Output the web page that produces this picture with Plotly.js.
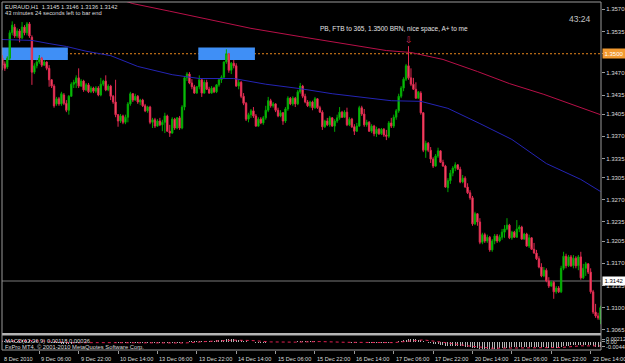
<!DOCTYPE html>
<html>
<head>
<meta charset="utf-8">
<script src="https://cdn.plot.ly/plotly-3.0.1.min.js"></script>
<style>html,body{margin:0;padding:0;background:#000;}#chart{width:625px;height:363px;}</style>
</head>
<body>
<div id="chart"></div>
<script>
// ---- EURAUD H1 candles (bar 0 = 8 Dec 2010 14:00) ----
const open = [
1.3490,1.3493,1.3484,1.3479,1.3493,1.3533,1.3542,1.3528,1.3536,1.3525,
1.3542,1.3533,1.3547,1.3526,1.3471,1.3481,1.3487,1.3493,1.3482,1.3487,
1.3477,1.3459,1.3449,1.3421,1.3429,1.3421,1.3435,1.3422,1.3411,1.3433,
1.3452,1.3454,1.3462,1.3449,1.3457,1.3443,1.3451,1.3440,1.3446,1.3441,
1.3446,1.3435,1.3452,1.3457,1.3443,1.3449,1.3433,1.3424,1.3404,1.3394,
1.3402,1.3392,1.3400,1.3421,1.3437,1.3427,1.3433,1.3424,1.3427,1.3418,
1.3410,1.3416,1.3392,1.3396,1.3386,1.3394,1.3388,1.3392,1.3402,1.3378,
1.3375,1.3397,1.3383,1.3399,1.3383,1.3416,1.3462,1.3468,1.3454,1.3448,
1.3438,1.3448,1.3459,1.3438,1.3455,1.3444,1.3438,1.3446,1.3440,1.3451,
1.3459,1.3463,1.3487,1.3500,1.3474,1.3485,1.3481,1.3449,1.3455,1.3433,
1.3422,1.3397,1.3404,1.3410,1.3402,1.3386,1.3397,1.3391,1.3399,1.3411,
1.3426,1.3418,1.3421,1.3411,1.3402,1.3407,1.3394,1.3413,1.3430,1.3421,
1.3430,1.3421,1.3440,1.3449,1.3433,1.3424,1.3418,1.3424,1.3415,1.3429,
1.3415,1.3408,1.3385,1.3394,1.3388,1.3399,1.3386,1.3394,1.3399,1.3408,
1.3400,1.3408,1.3388,1.3397,1.3385,1.3378,1.3386,1.3415,1.3405,1.3388,
1.3392,1.3378,1.3386,1.3374,1.3381,1.3374,1.3381,1.3372,1.3370,1.3391,
1.3386,1.3400,1.3410,1.3433,1.3446,1.3460,1.3481,1.3462,1.3452,1.3444,
1.3430,1.3438,1.3407,1.3348,1.3359,1.3348,1.3334,1.3323,1.3339,1.3347,
1.3329,1.3323,1.3289,1.3300,1.3312,1.3320,1.3325,1.3318,1.3298,1.3304,
1.3290,1.3281,1.3273,1.3232,1.3248,1.3235,1.3203,1.3215,1.3205,1.3211,
1.3191,1.3205,1.3213,1.3205,1.3211,1.3219,1.3224,1.3230,1.3210,1.3219,
1.3211,1.3224,1.3227,1.3208,1.3216,1.3197,1.3210,1.3192,1.3186,1.3177,
1.3164,1.3150,1.3159,1.3142,1.3134,1.3140,1.3125,1.3131,1.3125,1.3162,
1.3181,1.3166,1.3180,1.3166,1.3178,1.3166,1.3180,1.3147,1.3162,1.3169,
1.3156,1.3125,1.3093,1.3087,1.3081];
const high = [
1.3496,1.3498,1.3488,1.3496,1.3537,1.3551,1.3547,1.3540,1.3539,1.3550,
1.3545,1.3550,1.3550,1.3529,1.3485,1.3490,1.3498,1.3495,1.3490,1.3488,
1.3482,1.3460,1.3452,1.3432,1.3432,1.3440,1.3438,1.3427,1.3435,1.3455,
1.3459,1.3466,1.3477,1.3460,1.3459,1.3454,1.3454,1.3449,1.3448,1.3449,
1.3449,1.3462,1.3459,1.3466,1.3452,1.3451,1.3435,1.3459,1.3405,1.3405,
1.3404,1.3404,1.3424,1.3440,1.3438,1.3437,1.3435,1.3429,1.3429,1.3421,
1.3418,1.3418,1.3399,1.3399,1.3397,1.3399,1.3396,1.3407,1.3404,1.3388,
1.3400,1.3399,1.3400,1.3402,1.3419,1.3465,1.3471,1.3471,1.3460,1.3451,
1.3449,1.3466,1.3460,1.3459,1.3459,1.3448,1.3449,1.3448,1.3452,1.3460,
1.3466,1.3488,1.3507,1.3501,1.3487,1.3490,1.3485,1.3459,1.3457,1.3438,
1.3424,1.3407,1.3413,1.3416,1.3405,1.3400,1.3400,1.3402,1.3418,1.3432,
1.3429,1.3424,1.3422,1.3415,1.3411,1.3408,1.3416,1.3433,1.3432,1.3433,
1.3432,1.3443,1.3454,1.3451,1.3437,1.3427,1.3426,1.3426,1.3432,1.3430,
1.3418,1.3411,1.3396,1.3399,1.3402,1.3400,1.3397,1.3404,1.3416,1.3410,
1.3411,1.3415,1.3400,1.3399,1.3389,1.3391,1.3418,1.3418,1.3413,1.3396,
1.3394,1.3389,1.3388,1.3385,1.3383,1.3383,1.3383,1.3380,1.3394,1.3399,
1.3404,1.3413,1.3437,1.3449,1.3463,1.3484,1.3512,1.3477,1.3462,1.3455,
1.3441,1.3441,1.3408,1.3363,1.3361,1.3353,1.3337,1.3342,1.3352,1.3348,
1.3333,1.3325,1.3304,1.3317,1.3323,1.3329,1.3326,1.3322,1.3309,1.3307,
1.3296,1.3285,1.3276,1.3251,1.3249,1.3241,1.3218,1.3218,1.3215,1.3213,
1.3208,1.3216,1.3216,1.3215,1.3224,1.3230,1.3241,1.3232,1.3221,1.3221,
1.3238,1.3230,1.3229,1.3218,1.3218,1.3215,1.3211,1.3202,1.3191,1.3181,
1.3170,1.3164,1.3162,1.3148,1.3142,1.3142,1.3134,1.3134,1.3166,1.3188,
1.3185,1.3183,1.3183,1.3183,1.3181,1.3183,1.3188,1.3169,1.3172,1.3170,
1.3162,1.3128,1.3106,1.3092,1.3103];
const low = [
1.3481,1.3474,1.3473,1.3476,1.3490,1.3529,1.3525,1.3525,1.3518,1.3523,
1.3529,1.3529,1.3525,1.3451,1.3468,1.3477,1.3484,1.3479,1.3481,1.3474,
1.3448,1.3446,1.3415,1.3418,1.3418,1.3418,1.3419,1.3408,1.3404,1.3432,
1.3446,1.3446,1.3446,1.3448,1.3440,1.3441,1.3438,1.3438,1.3438,1.3438,
1.3433,1.3433,1.3449,1.3441,1.3441,1.3427,1.3421,1.3400,1.3385,1.3391,
1.3389,1.3389,1.3392,1.3418,1.3424,1.3426,1.3421,1.3419,1.3416,1.3408,
1.3407,1.3389,1.3383,1.3383,1.3385,1.3386,1.3378,1.3375,1.3377,1.3369,
1.3374,1.3380,1.3381,1.3380,1.3381,1.3411,1.3457,1.3452,1.3444,1.3437,
1.3437,1.3444,1.3432,1.3437,1.3443,1.3437,1.3437,1.3438,1.3438,1.3448,
1.3454,1.3462,1.3484,1.3470,1.3468,1.3477,1.3448,1.3444,1.3430,1.3419,
1.3394,1.3392,1.3399,1.3399,1.3385,1.3385,1.3389,1.3388,1.3396,1.3408,
1.3415,1.3415,1.3408,1.3400,1.3400,1.3388,1.3391,1.3410,1.3419,1.3418,
1.3416,1.3419,1.3437,1.3430,1.3422,1.3416,1.3415,1.3411,1.3413,1.3413,
1.3407,1.3380,1.3383,1.3386,1.3385,1.3385,1.3377,1.3391,1.3396,1.3399,
1.3399,1.3386,1.3386,1.3383,1.3372,1.3377,1.3385,1.3402,1.3385,1.3385,
1.3377,1.3375,1.3370,1.3369,1.3372,1.3372,1.3369,1.3364,1.3367,1.3383,
1.3383,1.3396,1.3407,1.3430,1.3441,1.3457,1.3459,1.3449,1.3443,1.3429,
1.3429,1.3404,1.3345,1.3336,1.3345,1.3328,1.3320,1.3322,1.3336,1.3328,
1.3322,1.3289,1.3282,1.3295,1.3307,1.3315,1.3317,1.3296,1.3296,1.3289,
1.3279,1.3270,1.3229,1.3230,1.3229,1.3200,1.3200,1.3202,1.3202,1.3188,
1.3188,1.3200,1.3202,1.3203,1.3207,1.3210,1.3222,1.3208,1.3207,1.3210,
1.3210,1.3219,1.3207,1.3207,1.3196,1.3194,1.3191,1.3185,1.3175,1.3162,
1.3148,1.3148,1.3140,1.3131,1.3133,1.3114,1.3122,1.3123,1.3123,1.3159,
1.3162,1.3164,1.3164,1.3162,1.3162,1.3159,1.3144,1.3145,1.3150,1.3153,
1.3122,1.3090,1.3084,1.3081,1.3074];
const close = [
1.3487,1.3482,1.3477,1.3493,1.3533,1.3545,1.3528,1.3536,1.3525,1.3542,
1.3533,1.3547,1.3528,1.3471,1.3481,1.3487,1.3493,1.3482,1.3487,1.3477,
1.3459,1.3449,1.3418,1.3429,1.3421,1.3437,1.3422,1.3411,1.3433,1.3452,
1.3455,1.3462,1.3449,1.3457,1.3443,1.3451,1.3440,1.3446,1.3441,1.3446,
1.3435,1.3452,1.3457,1.3443,1.3449,1.3433,1.3424,1.3404,1.3394,1.3402,
1.3392,1.3400,1.3421,1.3437,1.3427,1.3433,1.3424,1.3427,1.3418,1.3410,
1.3416,1.3392,1.3396,1.3386,1.3394,1.3388,1.3392,1.3402,1.3378,1.3375,
1.3397,1.3383,1.3399,1.3383,1.3416,1.3462,1.3468,1.3454,1.3448,1.3438,
1.3448,1.3459,1.3438,1.3455,1.3444,1.3438,1.3446,1.3440,1.3451,1.3459,
1.3463,1.3487,1.3500,1.3474,1.3485,1.3481,1.3449,1.3455,1.3433,1.3422,
1.3397,1.3404,1.3410,1.3402,1.3386,1.3397,1.3391,1.3399,1.3411,1.3426,
1.3418,1.3421,1.3411,1.3402,1.3407,1.3394,1.3413,1.3430,1.3421,1.3430,
1.3421,1.3440,1.3449,1.3433,1.3424,1.3418,1.3424,1.3415,1.3429,1.3415,
1.3408,1.3385,1.3394,1.3388,1.3399,1.3386,1.3394,1.3399,1.3408,1.3400,
1.3408,1.3388,1.3397,1.3385,1.3378,1.3386,1.3415,1.3405,1.3388,1.3392,
1.3378,1.3386,1.3374,1.3381,1.3374,1.3381,1.3372,1.3370,1.3391,1.3386,
1.3400,1.3410,1.3433,1.3446,1.3460,1.3481,1.3462,1.3452,1.3444,1.3430,
1.3440,1.3407,1.3348,1.3359,1.3348,1.3334,1.3323,1.3339,1.3347,1.3329,
1.3323,1.3290,1.3300,1.3312,1.3320,1.3325,1.3318,1.3298,1.3304,1.3290,
1.3281,1.3273,1.3232,1.3248,1.3235,1.3203,1.3215,1.3205,1.3211,1.3191,
1.3205,1.3213,1.3205,1.3211,1.3219,1.3224,1.3230,1.3210,1.3219,1.3211,
1.3224,1.3227,1.3208,1.3216,1.3197,1.3210,1.3192,1.3186,1.3177,1.3164,
1.3150,1.3159,1.3142,1.3134,1.3140,1.3125,1.3131,1.3125,1.3162,1.3181,
1.3166,1.3180,1.3166,1.3178,1.3166,1.3180,1.3147,1.3162,1.3169,1.3156,
1.3125,1.3093,1.3087,1.3084,1.3100];

// ---- moving averages (read at sample bars) ----
const maRedBars = [50,54,69,85,102,122,142,157,167,180,194,207,221,235,244];
const maRedVals = [1.3584,1.3579,1.3567,1.3554,1.3540,1.3527,1.3515,1.3505,1.3502,1.3491,1.3472,1.3453,1.3436,1.3417,1.3404];
const maBlueBars = [0,13,20,27,35,45,56,70,81,95,108,122,135,149,159,171,182,195,208,222,236,244];
const maBlueVals = [1.35225,1.3521,1.3516,1.35115,1.3504,1.3497,1.3480,1.3467,1.3461,1.3461,1.3452,1.3445,1.3437,1.3430,1.3426,1.3425,1.3414,1.3390,1.3365,1.3327,1.3302,1.3283];

// ---- MACD(12,26,9) ----
const macdHist = [
0.0005,0.0004,0.0003,0.0004,0.0006,0.0008,0.0009,0.0009,0.0009,0.0010,0.0010,0.0011,0.0010,
0.0005,0.0003,0.0002,0.0001,0.0000,-0.0001,-0.0002,-0.0005,-0.0008,-0.0012,-0.0014,-0.0015,-0.0016,-0.0017,-0.0019,-0.0019,-0.0016,
-0.0012,-0.0009,-0.0008,-0.0006,-0.0006,-0.0005,-0.0005,-0.0005,-0.0005,-0.0005,-0.0005,-0.0003,-0.0002,-0.0002,-0.0002,-0.0004,
-0.0005,-0.0008,-0.0011,-0.0012,-0.0013,-0.0013,-0.0012,-0.0009,-0.0008,-0.0007,-0.0007,-0.0007,-0.0007,-0.0008,-0.0008,-0.0010,-0.0011,-0.0012,-0.0012,-0.0012,-0.0012,-0.0011,-0.0012,-0.0013,-0.0012,-0.0012,-0.0012,-0.0012,-0.0010,-0.0004,
0.0000,0.0002,0.0004,0.0004,0.0005,0.0007,0.0007,0.0008,0.0009,0.0009,0.0009,0.0009,0.0010,0.0011,0.0012,0.0015,0.0019,0.0019,0.0019,0.0019,0.0016,0.0014,0.0010,0.0006,0.0002,-0.0001,-0.0003,
-0.0004,-0.0007,-0.0008,-0.0009,-0.0009,-0.0008,-0.0005,-0.0004,-0.0003,-0.0003,-0.0004,-0.0004,-0.0005,-0.0004,-0.0002,-0.0001,0.0000,0.0000,0.0002,0.0004,0.0004,0.0003,0.0002,0.0002,0.0002,0.0002,0.0001,0.0000,
-0.0003,-0.0004,-0.0005,-0.0005,-0.0006,-0.0006,-0.0006,-0.0005,-0.0005,-0.0005,-0.0006,-0.0006,-0.0007,-0.0008,-0.0008,-0.0006,-0.0005,-0.0006,-0.0006,-0.0007,-0.0008,-0.0009,-0.0009,-0.0010,-0.0010,-0.0010,-0.0011,-0.0009,-0.0008,-0.0006,
-0.0003,0.0002,0.0007,0.0012,0.0018,0.0020,0.0021,0.0021,0.0019,0.0017,0.0012,0.0003,
-0.0004,-0.0009,-0.0014,-0.0019,-0.0021,-0.0023,-0.0026,-0.0028,-0.0034,-0.0037,-0.0038,-0.0038,-0.0038,-0.0038,-0.0040,-0.0040,-0.0042,-0.0044,-0.0046,
-0.0051,-0.0053,-0.0055,-0.0059,-0.0060,-0.0061,-0.0061,-0.0062,-0.0061,-0.0060,-0.0058,-0.0056,-0.0054,-0.0051,-0.0049,-0.0049,-0.0047,-0.0046,-0.0044,-0.0042,-0.0042,-0.0041,-0.0042,-0.0041,
-0.0042,-0.0042,-0.0043,-0.0045,-0.0047,-0.0047,-0.0049,-0.0050,-0.0050,-0.0051,-0.0051,-0.0051,-0.0046,-0.0040,-0.0037,-0.0034,-0.0032,-0.0030,-0.0029,-0.0027,-0.0028,-0.0027,-0.0026,-0.0026,-0.0030,-0.0036,-0.0041,-0.0044,-0.0045];
const signalBars = [0,12,20,30,40,50,60,75,85,95,102,110,120,130,140,160,166,172,180,190,200,210,220,228,236,244];
const signalVals = [0.0006,0.0009,0.0004,-0.0010,-0.0008,-0.0009,-0.0009,-0.0011,0.0003,0.0013,0.0010,-0.0002,-0.0004,0.0001,-0.0005,-0.0008,0.0004,0.0015,-0.0005,-0.0035,-0.0055,-0.0052,-0.0046,-0.0049,-0.0035,-0.0036];

// ---- axis labels ----
const timeTickBars = [0,16,32,48,64,80,96,112,128,144,160,176,192,208,224,240];
const timeTickText = ["8 Dec 2010","9 Dec 06:00","9 Dec 22:00","10 Dec 14:00","13 Dec 06:00","13 Dec 22:00","14 Dec 14:00","15 Dec 06:00","15 Dec 22:00","16 Dec 14:00","17 Dec 06:00","17 Dec 22:00","20 Dec 14:00","21 Dec 06:00","21 Dec 22:00","22 Dec 14:00"];
const priceTicks = [1.3570,1.3535,1.3500,1.3470,1.3435,1.3405,1.3370,1.3335,1.3305,1.3270,1.3235,1.3205,1.3170,1.3135,1.3100,1.3065];
const macdTicks = [0.00212,0,-0.0044];
const macdTickText = ["0.00212","0.00","-0.0044"];

// ---- chart objects ----
const zoneStart = [-1, 80.6];
const zoneEnd = [27.6, 103.6];
const zoneTop = [1.3510, 1.3510];
const zoneBottom = [1.3490, 1.3490];
const roundLevel = 1.3500;
const bidPrice = 1.3142;
const signalBar = 166, signalPrice = 1.3521;
const noteBar = 129.2, notePrice = 1.3539;
const noteText = "PB, FTB to 365, 1.3500 BRN, nice space, A+ to me";
const header1 = "EURAUD,H1  1.3145 1.3146 1.3136 1.3142";
const header2 = "43 minutes 24 seconds left to bar end";
const timer = "43:24";
const macdLabel = "MACD(12,26,9) 0.00118 0.00036";
const copyright = "FxPro MT4, \u00a9 2001-2010 MetaQuotes Software Corp.";

const bars = open.map((_, i) => i);
const FONT = "Liberation Sans, Arial, sans-serif";
const TXT = "#dcdcdc";
const xRange = [0.85, 244.2];

// pixel helpers for paper placement (plot area 2..601 x 2..350)
const px = x => (x - 2) / 599;
const py = y => (350 - y) / 348;

const traces = [
  {type:'candlestick', x:bars, open:open, high:high, low:low, close:close,
   xaxis:'x', yaxis:'y', whiskerwidth:0, hoverinfo:'skip', showlegend:false,
   increasing:{line:{color:'#00a800', width:1}, fillcolor:'#1ccc1c'},
   decreasing:{line:{color:'#e02850', width:1}, fillcolor:'#ff6a72'}},
  {type:'scatter', mode:'lines', x:maBlueBars, y:maBlueVals, xaxis:'x', yaxis:'y',
   line:{color:'#2424b4', width:1}, hoverinfo:'skip', showlegend:false},
  {type:'scatter', mode:'lines', x:maRedBars, y:maRedVals, xaxis:'x', yaxis:'y',
   line:{color:'#b81048', width:1}, hoverinfo:'skip', showlegend:false},
  {type:'bar', x:bars, y:macdHist, xaxis:'x', yaxis:'y2', width:0.4,
   marker:{color:'#b4b4b4', line:{width:0}}, hoverinfo:'skip', showlegend:false},
  {type:'scatter', mode:'lines', x:signalBars, y:signalVals, xaxis:'x', yaxis:'y2',
   line:{color:'#e02050', width:1, dash:'dot'}, hoverinfo:'skip', showlegend:false}
];

const shapes = [
  {type:'line', xref:'paper', yref:'y', x0:0, x1:1, y0:roundLevel, y1:roundLevel,
   line:{color:'#e8861c', width:1, dash:'2px,2px'}, layer:'below'},
  {type:'line', xref:'paper', yref:'y', x0:0, x1:1, y0:bidPrice, y1:bidPrice,
   line:{color:'#787878', width:1}, layer:'below'}
];
zoneStart.forEach((s, k) => shapes.push({type:'rect', xref:'x', yref:'y',
  x0:s, x1:zoneEnd[k], y0:zoneBottom[k], y1:zoneTop[k],
  fillcolor:'#3f8ff6', line:{width:0}, layer:'below'}));
shapes.push({type:'rect', xref:'paper', yref:'paper', x0:0, x1:1, y0:py(335.5), y1:py(333),
  fillcolor:'#b4b4b4', line:{width:0}, layer:'above'});
shapes.push({type:'rect', xref:'paper', yref:'paper', x0:0, x1:1, y0:0, y1:1,
  fillcolor:'rgba(0,0,0,0)', line:{color:'#9a9a9a', width:1}, layer:'above'});

const annotations = [];
timeTickBars.forEach((b, k) => annotations.push({
  xref:'x', yref:'paper', x:Math.max(b, xRange[0] + 0.05), y:py(358.5),
  xanchor:'left', yanchor:'middle', xshift:0, showarrow:false,
  text:timeTickText[k], font:{family:FONT, size:5.6, color:TXT}}));
annotations.push(
  {xref:'paper', yref:'paper', x:px(3), y:py(6.5), xanchor:'left', yanchor:'middle', showarrow:false,
   text:header1, font:{family:FONT, size:5.8, color:TXT}},
  {xref:'paper', yref:'paper', x:px(3), y:py(13), xanchor:'left', yanchor:'middle', showarrow:false,
   text:header2, font:{family:FONT, size:5.8, color:TXT}},
  {xref:'paper', yref:'paper', x:px(579.5), y:py(18.5), xanchor:'center', yanchor:'middle', showarrow:false,
   text:timer, font:{family:FONT, size:8.5, color:'#c4c4c4'}},
  {xref:'x', yref:'y', x:noteBar, y:notePrice, xanchor:'left', yanchor:'middle', showarrow:false,
   text:noteText, font:{family:FONT, size:6.5, color:'#e4e4e4'}},
  {xref:'x', yref:'y', x:signalBar, y:signalPrice, xanchor:'center', yanchor:'middle', showarrow:false,
   text:'\u21e9', font:{family:'DejaVu Sans', size:9, color:'#d02858'}},
  {xref:'paper', yref:'y', x:1, y:roundLevel, xanchor:'left', yanchor:'middle', xshift:1, showarrow:false,
   text:'1.3500', bgcolor:'#f29a30', width:22, height:9, borderpad:0,
   font:{family:FONT, size:6, color:'#ffffff'}},
  {xref:'paper', yref:'y', x:1, y:bidPrice, xanchor:'left', yanchor:'middle', xshift:1, showarrow:false,
   text:'1.3142', bgcolor:'#ffffff', width:22, height:8, borderpad:0,
   font:{family:FONT, size:6, color:'#000000'}},
  {xref:'paper', yref:'paper', x:px(3), y:py(341.3), xanchor:'left', yanchor:'middle', showarrow:false,
   text:macdLabel, font:{family:FONT, size:5.8, color:TXT}},
  {xref:'paper', yref:'paper', x:px(3), y:py(346.8), xanchor:'left', yanchor:'middle', showarrow:false,
   text:copyright, font:{family:FONT, size:5.8, color:TXT}}
);

const layout = {
  width:625, height:363,
  margin:{l:2, r:24, t:2, b:13, pad:0},
  paper_bgcolor:'#000000', plot_bgcolor:'#000000',
  showlegend:false, boxgap:0.3, boxgroupgap:0.2, bargap:0,
  font:{family:FONT, size:6, color:TXT},
  xaxis:{anchor:'y2', range:xRange, showgrid:false, zeroline:false, showline:false,
    tickmode:'array', tickvals:timeTickBars, showticklabels:false,
    ticks:'outside', ticklen:3, tickcolor:'#9a9a9a', tickwidth:1,
    rangeslider:{visible:false}, fixedrange:true},
  yaxis:{domain:[py(333), 1], range:[1.30601, 1.35815], side:'right', anchor:'x',
    showgrid:false, zeroline:false, showline:false,
    tickmode:'array', tickvals:priceTicks, ticktext:priceTicks.map(v => v.toFixed(4)),
    ticks:'outside', ticklen:3, tickcolor:'#9a9a9a', tickwidth:1,
    tickfont:{family:FONT, size:6, color:TXT}, fixedrange:true},
  yaxis2:{domain:[0, py(335.5)], range:[-0.0070, 0.0052], side:'right', anchor:'x',
    showgrid:false, zeroline:false, showline:false,
    tickmode:'array', tickvals:macdTicks, ticktext:macdTickText,
    ticks:'outside', ticklen:3, tickcolor:'#9a9a9a',
    tickfont:{family:FONT, size:5.5, color:TXT}, fixedrange:true},
  shapes:shapes,
  annotations:annotations
};

Plotly.newPlot('chart', traces, layout, {staticPlot:true, displayModeBar:false});
</script>
</body>
</html>
